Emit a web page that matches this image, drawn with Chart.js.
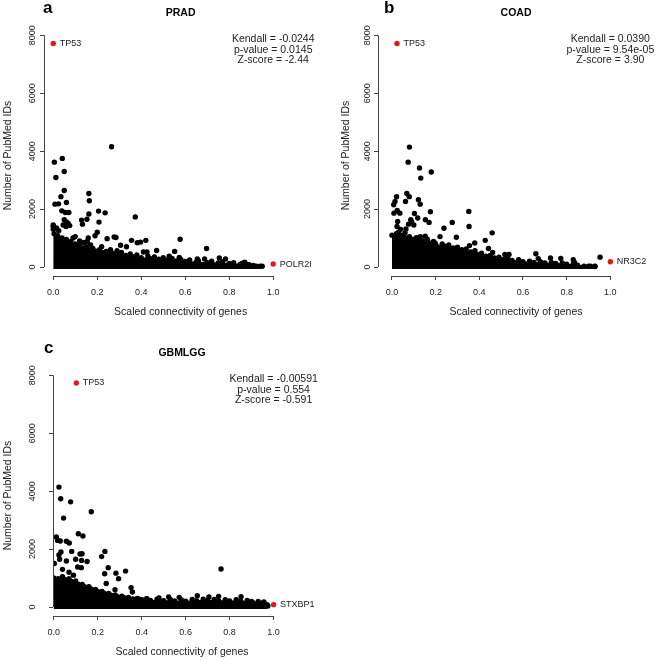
<!DOCTYPE html>
<html>
<head>
<meta charset="utf-8">
<script src="https://cdn.jsdelivr.net/npm/chart.js@4.4.0/dist/chart.umd.min.js"></script>
<style>
  body { margin: 0; background: #fff; width: 658px; height: 660px; position: relative; overflow: hidden; }
  canvas { position: absolute; }
</style>
</head>
<body>
<canvas id="panelA" width="330" height="324" style="left:0;top:0"></canvas>
<canvas id="panelB" width="329" height="324" style="left:329px;top:0"></canvas>
<canvas id="panelC" width="330" height="324" style="left:0;top:340px"></canvas>
<script>
// 刻度
const xTicks = [0, 0.2, 0.4, 0.6, 0.8, 1.0];
const yTicks = [0, 2000, 4000, 6000, 8000];

// PRAD
const pradStats = ['Kendall = -0.0244', 'p-value = 0.0145', 'Z-score = -2.44'];
const pradMarkNames = ['TP53', 'POLR2I'];
const pradMarkXY = [[0, 7715], [1.0, 103]];
// 密集点云的上边界
const pradCloud = [[0, 1450], [0.004, 1150], [0.02, 1080], [0.04, 1000], [0.06, 950], [0.08, 880], [0.1, 800],
  [0.12, 760], [0.15, 700], [0.18, 640], [0.21, 600], [0.24, 540], [0.27, 480], [0.3, 440], [0.33, 400],
  [0.36, 360], [0.4, 320], [0.44, 300], [0.48, 270], [0.52, 240], [0.56, 210], [0.6, 190], [0.65, 170],
  [0.7, 150], [0.75, 140], [0.8, 120], [0.85, 100], [0.88, 80], [0.91, 50], [0.94, 25]];
// 点云边缘的散点
const pradEdge = [[0.09, 1000], [0.14, 850], [0.17, 760], [0.22, 700], [0.26, 600], [0.29, 560], [0.31, 500],
  [0.35, 450], [0.38, 420], [0.43, 380], [0.46, 350], [0.5, 320], [0.54, 300], [0.58, 260], [0.62, 240],
  [0.66, 220], [0.72, 200], [0.77, 180], [0.82, 150], [0.86, 130]];
const pradPoints = [[0.265, 4150], [0.041, 3750], [0.005, 3620], [0.05, 3300], [0.012, 3090], [0.05, 2640],
  [0.162, 2540], [0.164, 2290], [0.035, 2430], [0.06, 2230], [0.008, 2170], [0.024, 2180], [0.206, 1930],
  [0.236, 1870], [0.162, 1830], [0.373, 1730], [0.039, 1940], [0.055, 1880], [0.071, 1880], [0.153, 1650],
  [0.129, 1620], [0.133, 1480], [0.208, 1550], [0.05, 1630], [0.06, 1560], [0.068, 1500], [0.045, 1450],
  [0.058, 1400], [0.075, 1430], [0.2, 1200], [0.19, 1080], [0.159, 1000], [0.155, 880], [0.245, 980],
  [0.277, 1040], [0.285, 1020], [0.306, 750], [0.333, 700], [0.356, 920], [0.382, 840], [0.397, 860],
  [0.421, 920], [0.41, 520], [0.426, 520], [0.47, 570], [0.577, 960], [0.552, 540], [0.527, 370],
  [0.573, 330], [0.655, 280], [0.697, 640], [0.688, 280], [0.755, 310], [0.783, 280], [0.871, 170],
  [0.923, 25], [0.95, 25], [0.891, 80], [0, 1300], [0, 1400], [0.015, 1350], [0.025, 1250], [0.1, 1050], [0.12, 900]];

// COAD
const coadStats = ['Kendall = 0.0390', 'p-value = 9.54e-05', 'Z-score = 3.90'];
const coadMarkNames = ['TP53', 'NR3C2'];
const coadMarkXY = [[0.023, 7715], [1.0, 184]];
const coadCloud = [[0, 1100], [0.02, 1150], [0.05, 1100], [0.08, 1050], [0.11, 1000], [0.14, 900], [0.17, 830],
  [0.2, 780], [0.24, 720], [0.28, 660], [0.32, 600], [0.36, 520], [0.39, 430], [0.43, 370], [0.47, 310],
  [0.51, 260], [0.55, 230], [0.6, 180], [0.65, 160], [0.7, 140], [0.75, 120], [0.8, 100], [0.85, 60],
  [0.9, 30], [0.93, 20]];
const coadEdge = [[0.03, 1200], [0.06, 1180], [0.13, 1050], [0.19, 880], [0.23, 800], [0.26, 760], [0.3, 680],
  [0.34, 620], [0.38, 560], [0.41, 480], [0.45, 400], [0.49, 340], [0.53, 300], [0.58, 250], [0.63, 200],
  [0.68, 180], [0.73, 160], [0.78, 140], [0.83, 110]];
const coadPoints = [[0.08, 4140], [0.074, 3620], [0.126, 3420], [0.132, 3070], [0.18, 3280], [0.068, 2540],
  [0.079, 2430], [0.062, 2260], [0.021, 2430], [0.014, 2260], [0.008, 2150], [0.121, 2320], [0.129, 2170],
  [0.176, 1910], [0.024, 1950], [0.036, 1860], [0.009, 1860], [0.103, 1850], [0.118, 1690], [0.086, 1630],
  [0.076, 1480], [0.064, 1310], [0.153, 1630], [0.17, 1540], [0.026, 1570], [0.023, 1400], [0.352, 1920],
  [0.353, 1400], [0.276, 1540], [0.238, 1340], [0.295, 1030], [0.22, 1050], [0.459, 1180], [0.427, 920],
  [0.379, 830], [0.355, 740], [0.114, 1000], [0.152, 1060], [0.162, 960], [0.197, 830], [0.442, 640],
  [0.461, 500], [0.517, 430], [0.536, 430], [0.659, 460], [0.67, 290], [0.726, 310], [0.773, 300],
  [0.83, 250], [0.836, 160], [0.879, 25], [0.909, 25], [0.929, 25], [0.953, 340], [0.09, 1560],
  [0.1, 1450], [0.04, 1300]];

// GBMLGG
const gbmStats = ['Kendall = -0.00591', 'p-value = 0.554', 'Z-score = -0.591'];
const gbmMarkNames = ['TP53', 'STXBP1'];
const gbmMarkXY = [[0.103, 7735], [1.0, 81]];
const gbmCloud = [[0, 1000], [0.02, 980], [0.05, 950], [0.08, 880], [0.11, 800], [0.14, 700], [0.17, 620],
  [0.2, 540], [0.23, 470], [0.26, 410], [0.29, 360], [0.32, 320], [0.36, 280], [0.4, 250], [0.44, 230],
  [0.5, 220], [0.55, 210], [0.6, 200], [0.65, 220], [0.7, 230], [0.75, 220], [0.8, 210], [0.85, 210],
  [0.9, 190], [0.95, 140], [0.97, 80]];
const gbmEdge = [[0.04, 1050], [0.07, 980], [0.1, 900], [0.13, 780], [0.16, 700], [0.19, 610], [0.22, 540],
  [0.25, 470], [0.28, 420], [0.31, 370], [0.34, 330], [0.38, 300], [0.42, 280], [0.47, 270], [0.53, 260],
  [0.58, 250], [0.63, 260], [0.68, 270], [0.73, 260], [0.78, 250], [0.83, 250], [0.88, 230], [0.93, 190]];
const gbmPoints = [[0.024, 4140], [0.032, 3740], [0.077, 3630], [0.045, 3070], [0.171, 3290], [0.112, 2530],
  [0.133, 2450], [0.012, 2420], [0.018, 2300], [0.03, 2280], [0.058, 2270], [0.071, 2210], [0.082, 1920],
  [0.033, 1900], [0.024, 1800], [0.027, 1650], [0.058, 1590], [0.1, 1650], [0.12, 1830], [0.129, 1840],
  [0.127, 1610], [0.152, 1570], [0.218, 1740], [0.233, 1920], [0.109, 1380], [0.126, 1360], [0.003, 1500],
  [0.248, 1360], [0.232, 1150], [0.283, 1170], [0.327, 1240], [0.295, 980], [0.279, 600], [0.239, 810],
  [0.352, 670], [0.358, 520], [0.385, 290], [0.761, 1310], [0.523, 345], [0.571, 334], [0.653, 390],
  [0.706, 345], [0.75, 368], [0.852, 357], [0.905, 150], [0.956, 173], [0.974, 35], [0.479, 311],
  [0.424, 288], [0.04, 1300], [0.07, 1200], [0.09, 1100]];

const FONT = '"Liberation Sans", Arial, sans-serif';
const INK = '#000';
const TEXT = '#222';
const AXIS = '#444';
const RED = '#e0191b';
const DOT = 2.7;

const toXY = arr => arr.map(p => ({ x: p[0], y: p[1] }));

// 面板字母、统计文字、标注和 R 风格的坐标轴线
const panelText = {
  id: 'panelText',
  afterDraw(chart, args, o) {
    const { ctx, chartArea: a, scales: { x, y } } = chart;
    ctx.save();
    ctx.strokeStyle = AXIS;
    ctx.lineWidth = 1;
    ctx.beginPath();
    const lx = Math.round(a.left) + 0.5;
    const by = Math.round(a.bottom) + 0.5;
    ctx.moveTo(lx, y.getPixelForValue(yTicks[0]));
    ctx.lineTo(lx, y.getPixelForValue(yTicks[yTicks.length - 1]));
    ctx.moveTo(x.getPixelForValue(xTicks[0]), by);
    ctx.lineTo(x.getPixelForValue(xTicks[xTicks.length - 1]), by);
    ctx.stroke();

    ctx.fillStyle = INK;
    ctx.font = 'bold 17px ' + FONT;
    ctx.textAlign = 'left';
    ctx.textBaseline = 'alphabetic';
    ctx.fillText(o.letter, o.letterX, 13);

    ctx.fillStyle = TEXT;
    ctx.font = '10.5px ' + FONT;
    ctx.textAlign = 'center';
    ctx.textBaseline = 'middle';
    o.stats.forEach((s, i) => ctx.fillText(s, x.getPixelForValue(1), 39 + i * 10.8));

    ctx.font = '9px ' + FONT;
    ctx.textAlign = 'left';
    o.names.forEach((n, i) => {
      ctx.fillText(n, x.getPixelForValue(o.xy[i][0]) + 6.5, y.getPixelForValue(o.xy[i][1]));
    });
    ctx.restore();
  }
};
Chart.register(panelText);

function drawPanel(id, p) {
  const ctx = document.getElementById(id).getContext('2d');
  return new Chart(ctx, {
    type: 'scatter',
    data: {
      datasets: [
        {
          type: 'line', data: toXY(p.cloud), borderColor: INK, backgroundColor: INK, borderWidth: 1,
          pointRadius: DOT, pointBackgroundColor: INK, pointBorderWidth: 0, fill: { value: -70 }, tension: 0, order: 3
        },
        { data: toXY(p.edge.concat(p.points)), pointRadius: DOT, backgroundColor: INK, borderWidth: 0, order: 2 },
        { data: toXY(p.markXY), pointRadius: 2.7, backgroundColor: RED, borderWidth: 0, order: 1 }
      ]
    },
    options: {
      responsive: false,
      animation: false,
      devicePixelRatio: 1,
      layout: { padding: { left: 0, top: 0, bottom: 0, right: p.padRight } },
      plugins: {
        legend: { display: false },
        tooltip: { enabled: false },
        title: {
          display: true, text: p.title, fullSize: false, color: INK,
          font: { family: FONT, size: 10.5, weight: 'bold' }, padding: { top: 7, bottom: 15.4 }
        },
        panelText: { letter: p.letter, letterX: p.letterX, stats: p.stats, names: p.markNames, xy: p.markXY }
      },
      scales: {
        x: {
          type: 'linear', min: p.xMin, max: p.xMax,
          afterBuildTicks: s => { s.ticks = xTicks.map(v => ({ value: v })); },
          afterFit: s => { s.height = 48; },
          border: { display: false },
          grid: { drawOnChartArea: false, drawTicks: true, tickLength: 4, color: AXIS },
          ticks: { font: { family: FONT, size: 9 }, color: TEXT, padding: 7.6, maxRotation: 0, autoSkip: false,
            callback: v => v.toFixed(1) },
          title: { display: true, text: 'Scaled connectivity of genes', color: TEXT,
            font: { family: FONT, size: 10.5 }, padding: { top: 0, bottom: 5.7 } }
        },
        y: {
          type: 'linear', min: -310, max: 8010,
          afterBuildTicks: s => { s.ticks = yTicks.map(v => ({ value: v })); },
          afterFit: s => { s.width = p.axisW; },
          border: { display: false },
          grid: { drawOnChartArea: false, drawTicks: true, tickLength: 4, color: AXIS },
          ticks: { font: { family: FONT, size: 9 }, color: TEXT, minRotation: 90, maxRotation: 90,
            crossAlign: 'center', padding: p.tickPad, autoSkip: false, callback: v => String(v) },
          title: { display: true, text: 'Number of PubMed IDs', color: TEXT,
            font: { family: FONT, size: 10.5 }, padding: { top: p.yTitlePad, bottom: 0 } }
        }
      }
    }
  });
}

drawPanel('panelA', { title: 'PRAD', letter: 'a', letterX: 43, stats: pradStats, markNames: pradMarkNames,
  markXY: pradMarkXY, cloud: pradCloud, edge: pradEdge, points: pradPoints,
  xMin: -0.042, xMax: 1.2, padRight: 12.8, axisW: 44, tickPad: -3, yTitlePad: 1.7 });
drawPanel('panelB', { title: 'COAD', letter: 'b', letterX: 55, stats: coadStats, markNames: coadMarkNames,
  markXY: coadMarkXY, cloud: coadCloud, edge: coadEdge, points: coadPoints,
  xMin: -0.064, xMax: 1.2, padRight: 1, axisW: 49, tickPad: -4, yTitlePad: 10.4 });
drawPanel('panelC', { title: 'GBMLGG', letter: 'c', letterX: 44, stats: gbmStats, markNames: gbmMarkNames,
  markXY: gbmMarkXY, cloud: gbmCloud, edge: gbmEdge, points: gbmPoints,
  xMin: -0.003, xMax: 1.17, padRight: 19, axisW: 53, tickPad: 6, yTitlePad: 1.7 });
</script>
</body>
</html>
